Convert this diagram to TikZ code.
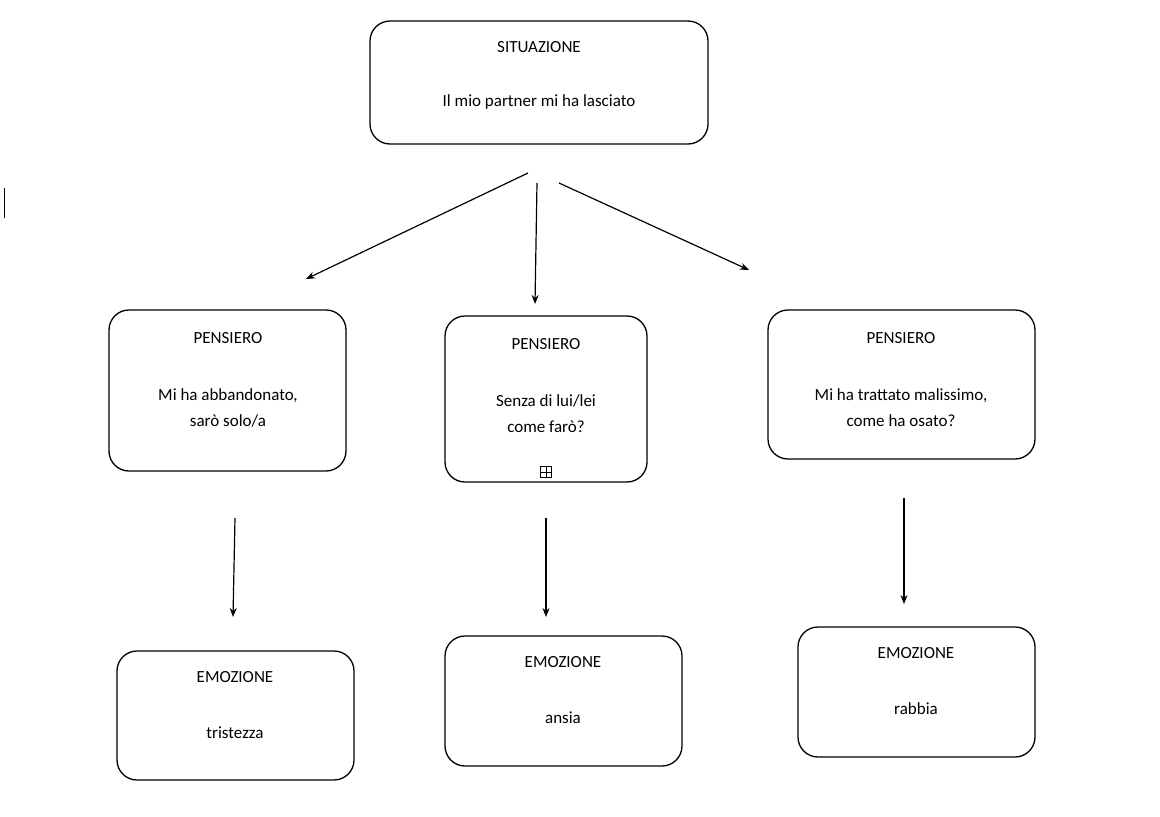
\documentclass[tikz,border=0pt]{standalone}
\usepackage{fontspec}
\setmainfont{Carlito}
\usetikzlibrary{arrows.meta}
\begin{document}
\begin{tikzpicture}[x=1pt,y=-1pt,
  box/.style={draw,line width=1.3pt,rounded corners=20pt,inner sep=0pt},
  txt/.style={font=\fontsize{17}{26}\selectfont,align=center,inner sep=0pt},
  arr/.style={line width=1.2pt,-{Stealth[length=9pt,width=7pt]}}]
\useasboundingbox (0,0) rectangle (1160,817);
\newcommand\bx[5]{\node[box,minimum width=#4-#2,minimum height=#5-#3] (#1) at ({(#2+#4)/2},{(#3+#5)/2}) {};}
\bx{s}{370}{21}{708}{144}
\bx{p1}{109}{310}{346}{471}
\bx{p2}{445}{316}{647}{482}
\bx{p3}{768}{310}{1035}{459}
\bx{e1}{117}{651}{354}{780}
\bx{e2}{445}{636}{682}{766}
\bx{e3}{798}{627}{1035}{757}
\node[txt] (st) at (539,47) {SITUAZIONE};
\node[txt] (sb) at (539,102) {Il mio partner mi ha lasciato};
\node[txt] (p1t) at (228,338) {PENSIERO};
\node[txt] (p1b) at (228,408) {Mi ha abbandonato,\\sarò solo/a};
\node[txt] (p2t) at (546,344) {PENSIERO};
\node[txt] (p2b) at (546,414) {Senza di lui/lei\\come farò?};
\node[draw,line width=0.6pt,minimum size=11pt,inner sep=0pt] (pl) at (546,472) {};
\draw[line width=0.6pt] (pl.north) -- (pl.south) (pl.west) -- (pl.east);
\node[txt] (p3t) at (901,338) {PENSIERO};
\node[txt] (p3b) at (901,408) {Mi ha trattato malissimo,\\come ha osato?};
\node[txt] (e1t) at (235,677) {EMOZIONE};
\node[txt] (e1b) at (235,733) {tristezza};
\node[txt] (e2t) at (563,662) {EMOZIONE};
\node[txt] (e2b) at (563,718) {ansia};
\node[txt] (e3t) at (916,653) {EMOZIONE};
\node[txt] (e3b) at (916,709) {rabbia};
\coordinate (a1) at (528,173); \coordinate (b1) at (306,279);
\coordinate (a2) at (537,183); \coordinate (b2) at (535,304);
\coordinate (a3) at (559,183); \coordinate (b3) at (749,270);
\coordinate (c1) at (235,518); \coordinate (d1) at (233,617);
\coordinate (c2) at (546,518); \coordinate (d2) at (546,617);
\coordinate (c3) at (904,498); \coordinate (d3) at (904,604);
\foreach \i in {1,2,3} {\draw[arr] (a\i) -- (b\i); \draw[arr] (c\i) -- (d\i);}
\coordinate (k1) at (4,188); \coordinate (k2) at (4,218);
\draw[line width=0.8pt] (k1) -- (k2);
\end{tikzpicture}
\end{document}
